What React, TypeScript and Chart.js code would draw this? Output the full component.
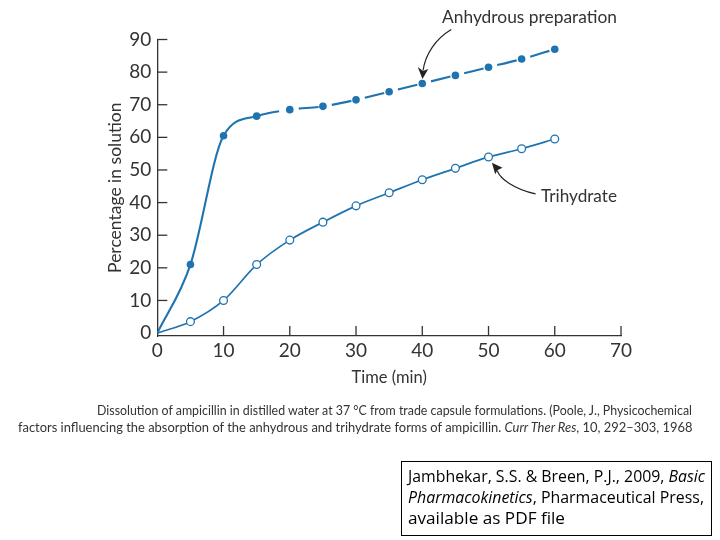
import React, { useEffect, useLayoutEffect, useRef } from "react";
import { Chart, registerables } from "chart.js";

Chart.register(...registerables);

// ---------- data ----------
const timeMin = [0, 5, 10, 15, 20, 25, 30, 35, 40, 45, 50, 55, 60];
const anhydrous = [0, 21, 60.5, 66.5, 68.5, 69.5, 71.5, 74, 76.5, 79, 81.5, 84, 87];
const trihydrate = [0, 3.5, 10, 21, 28.5, 34, 39, 43, 47, 50.5, 54, 56.5, 59.5];
const xTicks = [0, 10, 20, 30, 40, 50, 60, 70];
const yTicks = [0, 10, 20, 30, 40, 50, 60, 70, 80, 90];
const seriesNames = ["Anhydrous preparation", "Trihydrate"];
const xTitle = "Time (min)";
const yTitle = "Percentage in solution";
const captionLine1 =
  "Dissolution of ampicillin in distilled water at 37 °C from trade capsule formulations. (Poole, J., Physicochemical";
const captionLine2a =
  "factors influencing the absorption of the anhydrous and trihydrate forms of ampicillin. ";
const captionLine2b = "Curr Ther Res";
const captionLine2c = ", 10, 292–303, 1968";
const boxLine1a = "Jambhekar, S.S. & Breen, P.J., 2009, ";
const boxLine1b = "Basic";
const boxLine2a = "Pharmacokinetics";
const boxLine2b = ", Pharmaceutical Press,";
const boxLine3 = "available as PDF file";

const BLUE = "#1f73b0";
const INK = "#333333";
const FONT = "Lato, 'DejaVu Sans', sans-serif";
const BOXFONT = "'Open Sans', 'Noto Sans', sans-serif";

function FitText(props: {
  left: number;
  baseline: number;
  width: number;
  size: number;
  family: string;
  color: string;
  children: React.ReactNode;
}) {
  const ref = useRef<HTMLDivElement>(null);
  useLayoutEffect(() => {
    const fit = () => {
      const el = ref.current;
      if (!el) return;
      el.style.transform = "none";
      const w = el.getBoundingClientRect().width;
      if (w > 0) el.style.transform = `scaleX(${props.width / w})`;
    };
    fit();
    if ((document as any).fonts && (document as any).fonts.ready) {
      (document as any).fonts.ready.then(fit);
    }
  }, []);
  return (
    <div
      ref={ref}
      style={{
        position: "absolute",
        left: props.left,
        top: props.baseline - 0.887 * props.size,
        fontFamily: props.family,
        fontSize: props.size,
        lineHeight: `${props.size}px`,
        whiteSpace: "nowrap",
        transformOrigin: "0 0",
        color: props.color,
      }}
    >
      {props.children}
    </div>
  );
}

const overlayPlugin = {
  id: "overlay",
  afterDraw(chart: any) {
    const { ctx, chartArea } = chart;
    const x = chart.scales.x;
    const y = chart.scales.y;
    ctx.save();
    ctx.strokeStyle = INK;
    ctx.lineWidth = 1.3;
    // inward tick marks
    for (const v of yTicks) {
      if (v === 0) continue;
      const py = y.getPixelForValue(v);
      ctx.beginPath();
      ctx.moveTo(chartArea.left, py);
      ctx.lineTo(chartArea.left + 10, py);
      ctx.stroke();
    }
    for (const v of xTicks) {
      if (v === 0) continue;
      const px = x.getPixelForValue(v);
      ctx.beginPath();
      ctx.moveTo(px, chartArea.bottom);
      ctx.lineTo(px, chartArea.bottom - 10);
      ctx.stroke();
    }
    // arrows
    ctx.strokeStyle = "#222";
    ctx.fillStyle = "#222";
    ctx.lineWidth = 1.2;
    // anhydrous arrow -> point at 40 min
    const ia = timeMin.indexOf(40);
    const ax = x.getPixelForValue(timeMin[ia]);
    const ay = y.getPixelForValue(anhydrous[ia]);
    ctx.beginPath();
    ctx.moveTo(ax + 29, ay - 54);
    ctx.bezierCurveTo(ax + 14, ay - 45, ax + 3, ay - 30, ax + 0.8, ay - 13);
    ctx.stroke();
    ctx.beginPath();
    ctx.moveTo(ax + 0.2, ay - 4.5);
    ctx.lineTo(ax - 4.5, ay - 16.5);
    ctx.lineTo(ax + 0.8, ay - 12.5);
    ctx.lineTo(ax + 6, ay - 14.5);
    ctx.closePath();
    ctx.fill();
    // trihydrate arrow -> point at 50 min
    const it = timeMin.indexOf(50);
    const tx = x.getPixelForValue(timeMin[it]);
    const ty = y.getPixelForValue(trihydrate[it]);
    ctx.beginPath();
    ctx.moveTo(tx + 47, ty + 37);
    ctx.bezierCurveTo(tx + 25, ty + 32, tx + 12, ty + 22, tx + 8.5, ty + 13.5);
    ctx.stroke();
    ctx.beginPath();
    ctx.moveTo(tx + 3.4, ty + 5.7);
    ctx.lineTo(tx + 6.7, ty + 17.3);
    ctx.lineTo(tx + 8.8, ty + 13.2);
    ctx.lineTo(tx + 14, ty + 10.7);
    ctx.closePath();
    ctx.fill();
    ctx.restore();
  },
};

export default function App() {
  const canvasRef = useRef<HTMLCanvasElement>(null);

  useEffect(() => {
    const canvas = canvasRef.current;
    if (!canvas) return;
    const chart = new Chart(canvas, {
      type: "line",
      data: {
        datasets: [
          {
            label: seriesNames[0],
            data: timeMin.map((t, i) => ({ x: t, y: anhydrous[i] })),
            borderColor: BLUE,
            backgroundColor: BLUE,
            borderWidth: 2.1,
            pointRadius: (c: any) => (c.dataIndex === 0 ? 0 : 3.8),
            pointBackgroundColor: BLUE,
            pointBorderColor: BLUE,
            pointBorderWidth: 0,
            cubicInterpolationMode: "monotone",
            fill: false,
            segment: {
              borderDash: (c: any) => {
                const t = timeMin[c.p0DataIndex];
                if (t < 15) return [];
                if (t < 20) return [23, 300];
                return [20, 300];
              },
              borderDashOffset: (c: any) => {
                const t = timeMin[c.p0DataIndex];
                if (t < 20) return 0;
                return 311 + (c.p0DataIndex % 2) * 0.001;
              },
            },
          } as any,
          {
            label: seriesNames[1],
            data: timeMin.map((t, i) => ({ x: t, y: trihydrate[i] })),
            borderColor: BLUE,
            backgroundColor: "#ffffff",
            borderWidth: 1.7,
            pointRadius: (c: any) => (c.dataIndex === 0 ? 0 : 3.9),
            pointBackgroundColor: "#ffffff",
            pointBorderColor: BLUE,
            pointBorderWidth: 1.3,
            tension: 0.3,
            fill: false,
          } as any,
        ],
      },
      options: {
        responsive: false,
        animation: false,
        devicePixelRatio: 1,
        events: [],
        layout: { padding: { left: 0, top: 39.5, right: 99, bottom: 140 } },
        plugins: {
          legend: { display: false },
          tooltip: { enabled: false },
          title: { display: false },
        },
        scales: {
          x: {
            type: "linear",
            min: 0,
            max: 70,
            afterBuildTicks: (s: any) => {
              s.ticks = xTicks.map((v) => ({ value: v }));
            },
            afterFit: (s: any) => {
              s.height = 64;
            },
            ticks: {
              color: INK,
              font: { family: FONT, size: 19 },
              padding: 3,
              maxRotation: 0,
              autoSkip: false,
            },
            grid: { display: false, drawTicks: false },
            border: { display: true, color: INK, width: 1.3 },
            title: {
              display: true,
              text: xTitle,
              color: INK,
              font: { family: FONT, size: 16.5 },
              padding: { top: 0, bottom: 12.2 },
            },
          },
          y: {
            type: "linear",
            min: -0.9,
            max: 90,
            afterBuildTicks: (s: any) => {
              s.ticks = yTicks.map((v) => ({ value: v }));
            },
            afterFit: (s: any) => {
              s.width = 157.3;
            },
            ticks: {
              color: INK,
              font: { family: FONT, size: 19 },
              padding: 6,
              autoSkip: false,
            },
            grid: { display: false, drawTicks: false },
            border: { display: true, color: INK, width: 1.3 },
            title: {
              display: true,
              text: yTitle,
              color: INK,
              font: { family: FONT, size: 17.5 },
              padding: { top: 105, bottom: 0 },
            },
          },
        },
      } as any,
      plugins: [overlayPlugin],
    });
    return () => chart.destroy();
  }, []);

  return (
    <div
      style={{
        position: "fixed",
        left: 0,
        top: 0,
        width: 720,
        height: 540,
        background: "#ffffff",
        overflow: "hidden",
      }}
    >
      <canvas
        ref={canvasRef}
        width={720}
        height={540}
        style={{ position: "absolute", left: 0, top: 0, width: 720, height: 540 }}
      />
      <FitText left={442} baseline={22.7} width={175} size={18} family={FONT} color={INK}>
        {seriesNames[0]}
      </FitText>
      <FitText left={541} baseline={201.7} width={76} size={18} family={FONT} color={INK}>
        {seriesNames[1]}
      </FitText>
      <FitText left={96.7} baseline={415} width={595} size={14} family={FONT} color={INK}>
        {captionLine1}
      </FitText>
      <FitText left={17.5} baseline={432.7} width={674.5} size={14} family={FONT} color={INK}>
        {captionLine2a}
        <i>{captionLine2b}</i>
        {captionLine2c}
      </FitText>
      <div
        style={{
          position: "absolute",
          left: 401,
          top: 461,
          width: 311,
          height: 75,
          boxSizing: "border-box",
          border: "1px solid #000",
        }}
      />
      <FitText left={408} baseline={482} width={297} size={16} family={BOXFONT} color="#000">
        {boxLine1a}
        <i>{boxLine1b}</i>
      </FitText>
      <FitText left={408} baseline={503} width={296} size={16} family={BOXFONT} color="#000">
        <i>{boxLine2a}</i>
        {boxLine2b}
      </FitText>
      <FitText left={408} baseline={524} width={157} size={16} family={BOXFONT} color="#000">
        {boxLine3}
      </FitText>
    </div>
  );
}
